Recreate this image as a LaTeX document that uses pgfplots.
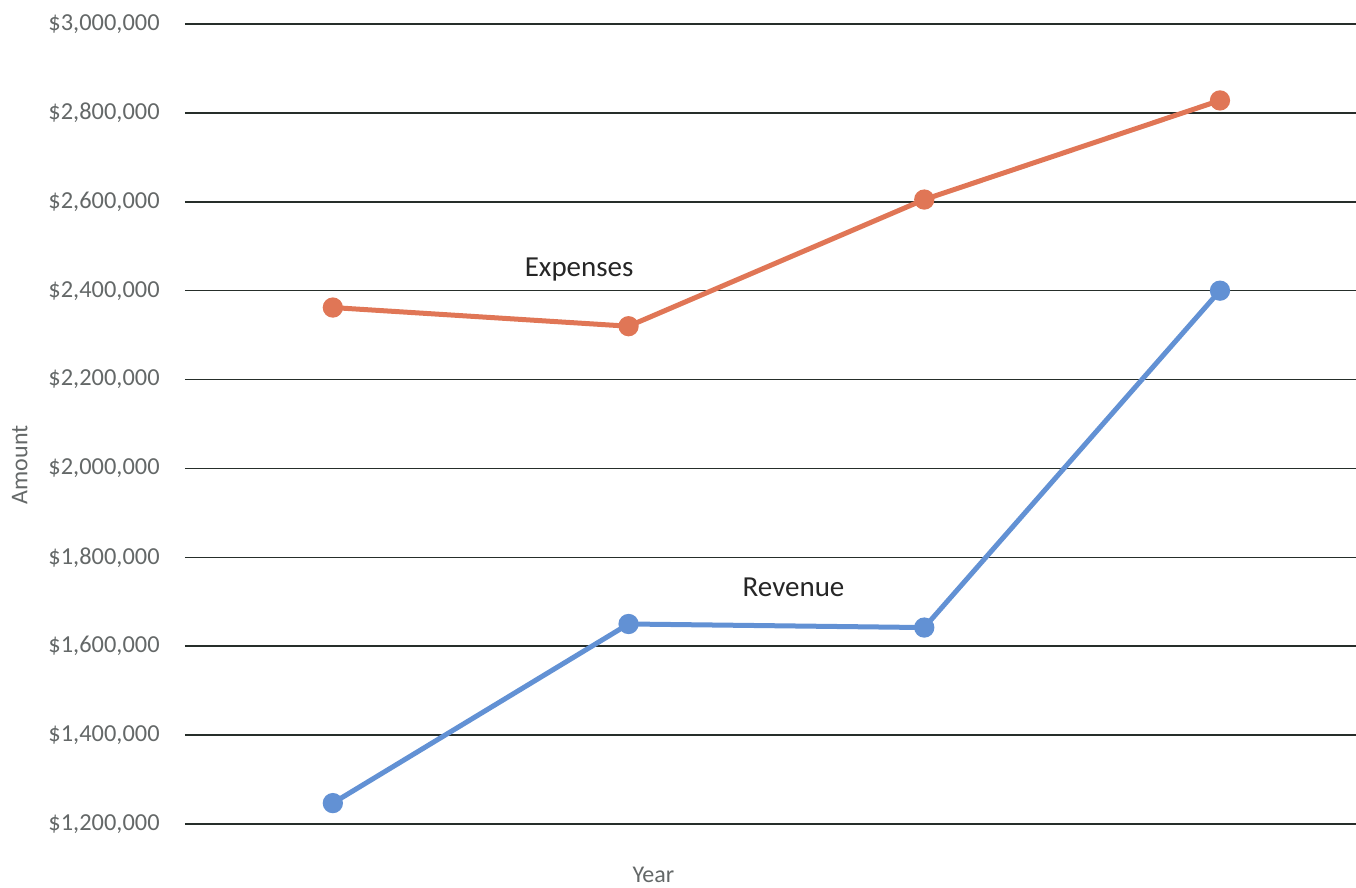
\documentclass[border=0pt]{standalone}
\usepackage{pgfplots}
\pgfplotsset{compat=1.18}
\usepackage{fontspec}
\setmainfont{Carlito}
\definecolor{expc}{RGB}{224,118,86}
\definecolor{revc}{RGB}{98,145,212}
\definecolor{gridc}{RGB}{38,46,42}
\definecolor{labc}{RGB}{100,104,104}
\begin{document}
\begin{tikzpicture}
\path[use as bounding box] (-92.5pt,-32pt) rectangle (585.5pt,412pt);
\begin{axis}[
  scale only axis,
  width=585.5pt, height=400pt,
  xmin=0, xmax=3.96,
  ymin=1200000, ymax=3000000,
  xtick=\empty,
  ytick={1200000,1400000,1600000,1800000,2000000,2200000,2400000,2600000,2800000,3000000},
  yticklabels={{\$1,200,000},{\$1,400,000},{\$1,600,000},{\$1,800,000},{\$2,000,000},{\$2,200,000},{\$2,400,000},{\$2,600,000},{\$2,800,000},{\$3,000,000}},
  yticklabel style={font=\fontsize{12.2}{14}\selectfont, text=labc, anchor=east, xshift=-11.5pt, inner sep=1pt},
  major tick length=0pt,
  ymajorgrids,
  grid style={gridc, line width=0.8pt},
  axis line style={draw=none},
  clip=false,
  ylabel={Amount},
  ylabel style={at={(axis description cs:-0.141,0.449)}, anchor=center, font=\fontsize{12}{14}\selectfont, text=labc},
  xlabel={Year},
  xlabel style={at={(axis description cs:0.4,-0.064)}, anchor=center, font=\fontsize{12}{14}\selectfont, text=labc},
]
\addplot[expc, line width=2.5pt, mark=*, mark size=3.8pt, mark options={fill=expc, draw=expc}]
  coordinates {(0.5,2362000) (1.5,2320000) (2.5,2605000) (3.5,2828000)};
\addplot[revc, line width=2.5pt, mark=*, mark size=3.8pt, mark options={fill=revc, draw=revc}]
  coordinates {(0.5,1247000) (1.5,1650000) (2.5,1642000) (3.5,2400000)};
\node[font=\fontsize{14.5}{16}\selectfont, text=black!85] at (axis cs:1.333,2446500) {Expenses};
\node[font=\fontsize{14.5}{16}\selectfont, text=black!85] at (axis cs:2.058,1733250) {Revenue};
\end{axis}
\end{tikzpicture}
\end{document}
